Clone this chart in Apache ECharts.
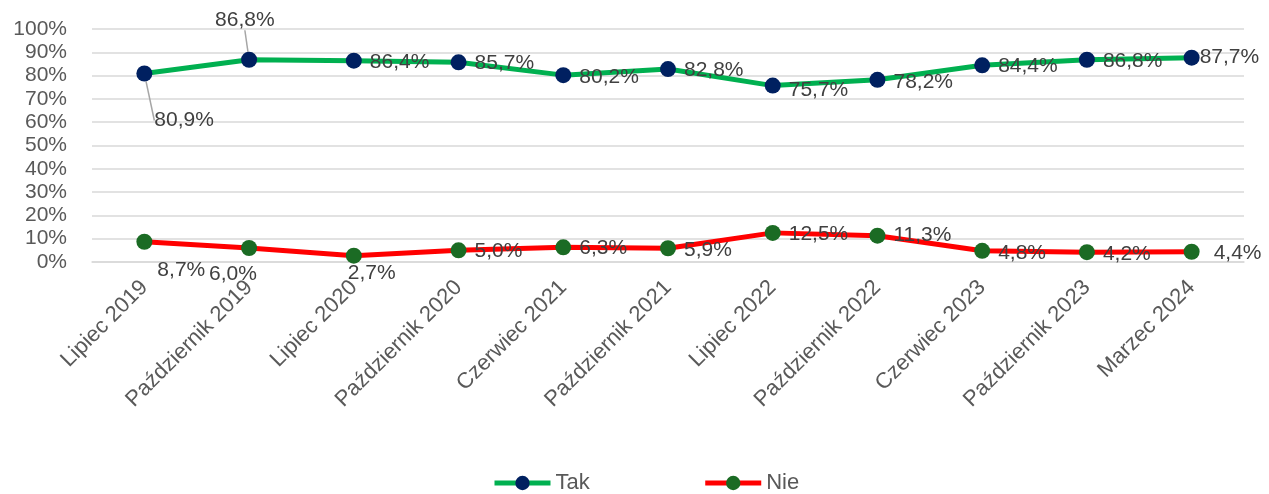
<!DOCTYPE html>
<html lang="pl">
<head>
  <meta charset="UTF-8">
  <title>Tak / Nie</title>
  <script src="https://cdn.jsdelivr.net/npm/echarts@6/dist/echarts.min.js"></script>
  <style>body{margin:0;background:#fff;}</style>
</head>
<body>
<div id="main" style="width:1269px;height:494px;"></div>
<script>
// dane
var categories = ['Lipiec 2019', 'Październik 2019', 'Lipiec 2020', 'Październik 2020', 'Czerwiec 2021',
  'Październik 2021', 'Lipiec 2022', 'Październik 2022', 'Czerwiec 2023', 'Październik 2023', 'Marzec 2024'];
var tak = [80.9, 86.8, 86.4, 85.7, 80.2, 82.8, 75.7, 78.2, 84.4, 86.8, 87.7];
var nie = [8.7, 6.0, 2.7, 5.0, 6.3, 5.9, 12.5, 11.3, 4.8, 4.2, 4.4];
var yTicks = [0, 10, 20, 30, 40, 50, 60, 70, 80, 90, 100];

// przesunięcia etykiet (dx, dy)
var takShift = [[-6, 47], [-50, -40], [0, 2], [0, 1], [0, 2], [0, 1], [0, 5], [0, 2], [0, 1], [0, 1], [-8, 0]];
var nieShift = [[-3, 28], [-56, 26], [-22, 17], [0, 1], [0, 1], [0, 2], [0, 1], [0, 0], [0, 2], [0, 2], [6, 1]];

function fmt(v) { return v.toFixed(1).replace('.', ',') + '%'; }

var chart = echarts.init(document.getElementById('main'));
var font = 'Liberation Sans, Arial, sans-serif';

var option = {
  animation: false,
  textStyle: { fontFamily: font },
  grid: { left: 92, right: 25, top: 29, bottom: 232 },
  legend: {
    top: 467,
    left: 487,
    itemWidth: 56,
    itemHeight: 18,
    itemGap: 113,
    lineStyle: { width: 5 },
    textStyle: { fontSize: 22, color: '#595959', fontFamily: font },
    data: ['Tak', 'Nie']
  },
  xAxis: {
    type: 'category',
    data: categories,
    axisLine: { lineStyle: { color: '#d9d9d9', width: 1.5 } },
    axisTick: { show: false },
    axisLabel: { rotate: 45, fontSize: 22, color: '#595959', margin: 22, interval: 0 }
  },
  yAxis: {
    type: 'value',
    min: yTicks[0],
    max: yTicks[yTicks.length - 1],
    interval: 10,
    axisLine: { show: false },
    axisTick: { show: false },
    axisLabel: { fontSize: 21, color: '#595959', margin: 25, formatter: '{value}%' },
    splitLine: { lineStyle: { color: '#d9d9d9', width: 1.5 } }
  },
  series: [
    {
      name: 'Tak',
      type: 'line',
      data: tak.map(function (v, i) {
        return { value: v, labelLine: { show: i < 2 } };
      }),
      symbol: 'circle',
      symbolSize: 16,
      lineStyle: { color: '#00B050', width: 5 },
      itemStyle: { color: '#002060' },
      label: {
        show: true, position: 'right', distance: 8, fontSize: 21, color: '#404040',
        formatter: function (p) { return fmt(p.value); }
      },
      labelLine: { lineStyle: { color: '#a6a6a6', width: 1.5 } },
      labelLayout: function (p) {
        return { dx: takShift[p.dataIndex][0], dy: takShift[p.dataIndex][1] };
      }
    },
    {
      name: 'Nie',
      type: 'line',
      data: nie,
      symbol: 'circle',
      symbolSize: 16,
      lineStyle: { color: '#FF0000', width: 5 },
      itemStyle: { color: '#1B6B24' },
      label: {
        show: true, position: 'right', distance: 8, fontSize: 21, color: '#404040',
        formatter: function (p) { return fmt(p.value); }
      },
      labelLayout: function (p) {
        return { dx: nieShift[p.dataIndex][0], dy: nieShift[p.dataIndex][1] };
      }
    }
  ]
};

chart.setOption(option);
</script>
</body>
</html>
